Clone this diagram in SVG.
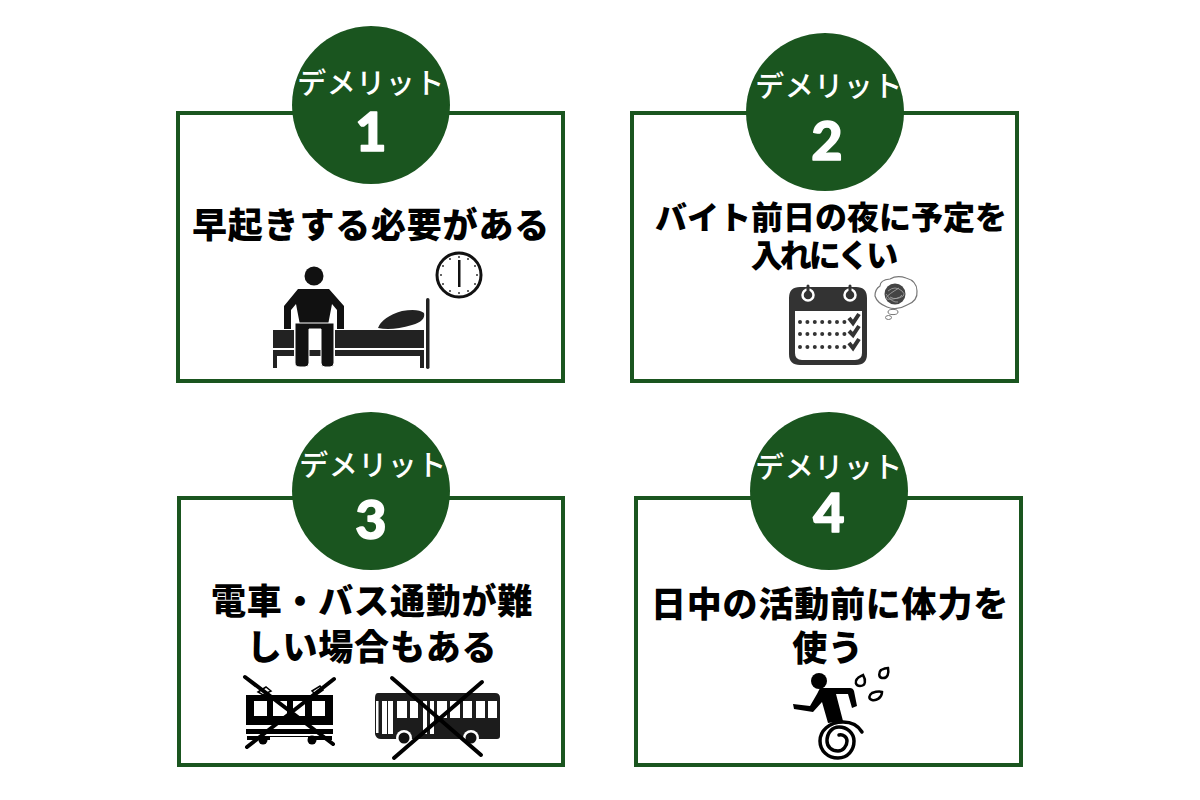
<svg xmlns="http://www.w3.org/2000/svg" width="1200" height="800" viewBox="0 0 1200 800">
<style>
.box{fill:#fff;stroke:#1a551f;stroke-width:4}
.disc{fill:#1a551f}
.lab{font-family:"Noto Sans CJK JP","Noto Sans",sans-serif;font-size:29px;font-weight:500;fill:#fff;text-anchor:middle;letter-spacing:.5px}
.num{font-family:"Lato","Noto Sans",sans-serif;font-size:54px;font-weight:900;fill:#fff;stroke:#fff;stroke-width:1.5;stroke-linejoin:round;text-anchor:middle}
.title{font-family:"Noto Sans CJK JP","Noto Sans",sans-serif;font-size:35px;font-weight:900;fill:#000;text-anchor:middle;letter-spacing:.8px}
.t2{font-size:32px;letter-spacing:0}
.k{fill:#222}
.ln{fill:none;stroke:#000;stroke-linecap:round;stroke-linejoin:round}
</style>
<rect width="1200" height="800" fill="#fff"/>
<g id="card1">
<rect class="box" x="178" y="113" width="385" height="268"/>
<circle class="disc" cx="371" cy="105" r="79"/>
<text class="lab" x="371" y="94">デメリット</text>
<text class="num" x="371" y="151">1</text>
<text class="title" x="371" y="238">早起きする必要がある</text>
<g id="icon-bed">
<circle cx="314" cy="276" r="9.500" fill="#111"/>
<path class="k" d="M273 330H294V348H273ZM335 330H424V348H335Z"/>
<path class="k" d="M273 350H294V356H277V368H273ZM309 350H321V356H309ZM335 350H424V356H335ZM420 356H424V368H420Z"/>
<path class="k" d="M378 328Q382 317 402 311Q418 308 424 313Q426 321 412 325Q392 331 378 328Z"/>
<path fill="#111" d="M298 289H329L344 306V329H337V310L332 304L328 325H300L296 304L291 310V329H284V306Z"/>
<path fill="#111" stroke="#fff" stroke-width="1" d="M295 323H334V363Q334 367 330 367H325Q321 367 321 363V329H309V363Q309 367 305 367H300Q295 367 295 363Z"/>
<rect class="k" x="426" y="298" width="3.500" height="71" rx="1.700"/>
<circle cx="459" cy="275" r="22" fill="#fff" stroke="#111" stroke-width="3"/>
<rect x="458" y="260" width="2.500" height="27" fill="#111"/>
<g fill="#333"><circle cx="459" cy="257" r="1"/><circle cx="468" cy="259" r="1"/><circle cx="475" cy="266" r="1"/><circle cx="477" cy="275" r="1"/><circle cx="475" cy="284" r="1"/><circle cx="468" cy="291" r="1"/><circle cx="459" cy="293" r="1"/><circle cx="450" cy="291" r="1"/><circle cx="443" cy="284" r="1"/><circle cx="441" cy="275" r="1"/><circle cx="443" cy="266" r="1"/><circle cx="450" cy="259" r="1"/></g>
</g>
</g>
<g id="card2">
<rect class="box" x="632" y="113" width="385" height="268"/>
<circle class="disc" cx="825" cy="112" r="79"/>
<text class="lab" x="829" y="97">デメリット</text>
<text class="num" x="827" y="160">2</text>
<text class="title t2" x="831" y="229">バイト前日の夜に予定を</text>
<text class="title t2" x="823" y="267" style="letter-spacing:-3px">入れにくい</text>
<g id="icon-calendar">
<path fill="#333" fill-rule="evenodd" d="M800 287H856Q867 287 867 298V354Q867 365 856 365H800Q789 365 789 354V298Q789 287 800 287ZM795 311V353Q795 360 802 360H855Q862 360 862 353V311Z"/>
<g fill="none" stroke-linecap="round"><circle cx="808" cy="295" r="5.500" stroke="#fff" stroke-width="2.500"/><circle cx="850" cy="295" r="5.500" stroke="#fff" stroke-width="2.500"/><path stroke="#333" stroke-width="3" d="M808 286V296M850 286V296"/></g>
<path stroke="#333" stroke-width="4" stroke-dasharray="0 7.400" stroke-linecap="round" fill="none" d="M800 322H846M800 334H846M800 347H846"/>
<path stroke="#333" stroke-width="4" fill="none" d="M849 318L853 323L859 314M849 331L853 335L859 326M849 343L853 348L859 339"/>
<path fill="#fff" stroke="#777" stroke-width="1.200" d="M880 286Q880 280 890 279Q897 275 906 278Q917 281 917 291Q918 301 907 305Q897 311 887 307Q877 303 875 296Q875 289 880 286Z"/>
<circle cx="895" cy="294" r="10.500" fill="#444"/>
<path fill="none" stroke="#aaa" stroke-width=".8" d="M888 291Q895 285 902 291T893 299T899 288M890 297Q897 301 902 295M886 294Q892 303 898 302"/>
<ellipse cx="893" cy="312" rx="5" ry="2.600" fill="#fff" stroke="#777"/>
<ellipse cx="888.500" cy="317.500" rx="3" ry="2" fill="#fff" stroke="#777"/>
</g>
</g>
<g id="card3">
<rect class="box" x="179" y="498" width="384" height="267"/>
<circle class="disc" cx="371" cy="491" r="79"/>
<text class="lab" x="373" y="476">デメリット</text>
<text class="num" x="371" y="539">3</text>
<text class="title" x="372" y="614">電車・バス通勤が難</text>
<text class="title" x="372" y="660">しい場合もある</text>
<g id="icon-train">
<path fill="#000" fill-rule="evenodd" d="M246 695H333V725H246ZM254 701V716H267V701ZM273 701V716H287V701ZM293 701V716H305V701ZM312 701V716H325V701Z"/>
<path fill="#000" d="M246 729H333V734H246ZM247 736H270V740H247ZM308 736H332V740H308ZM270 736H308V737H270Z"/>
<circle cx="263" cy="740" r="4.500"/><circle cx="312" cy="740" r="4.500"/>
<path fill="#fff" stroke="#000" stroke-width="1.500" d="M258 692L266 687L271 691L263 695ZM312 691L320 686L323 690L316 695Z"/>
<path class="ln" stroke-width="4" d="M245 677L333 744M334 679L247 747"/>
</g>
<g id="icon-bus">
<path fill="#1c1c1c" d="M378 693H495Q500 693 500 698V736Q500 739 497 739H381Q376 739 375 734V698Q375 693 378 693Z"/>
<g fill="#fff"><rect x="376" y="701" width="2.500" height="32"/><rect x="382" y="701" width="5" height="33"/><rect x="388" y="701" width="5" height="33"/><rect x="397" y="701" width="10" height="17"/><rect x="410" y="701" width="8" height="17"/><rect x="423" y="701" width="4" height="33"/><rect x="430" y="701" width="4" height="33"/><rect x="437" y="701" width="10" height="17"/><rect x="450" y="701" width="10" height="17"/><rect x="463" y="701" width="9" height="17"/><rect x="476" y="701" width="9" height="17"/><rect x="488" y="701" width="9" height="17"/></g>
<circle cx="404" cy="738" r="8" fill="#fff"/><circle cx="404" cy="738" r="5.500" fill="#111"/><circle cx="471" cy="738" r="8" fill="#fff"/><circle cx="471" cy="738" r="5.500" fill="#111"/>
<path class="ln" stroke-width="4" d="M392 678L481 755M482 682L394 758"/>
</g>
</g>
<g id="card4">
<rect class="box" x="636" y="498" width="385" height="267"/>
<circle class="disc" cx="829" cy="491" r="79"/>
<text class="lab" x="829" y="478">デメリット</text>
<text class="num" x="829" y="532">4</text>
<text class="title" x="830" y="617">日中の活動前に体力を</text>
<text class="title" x="828" y="661">使う</text>
<g id="icon-runner">
<circle cx="819" cy="681" r="8" fill="#000"/>
<path fill="#000" d="M820 688H850Q853 688 854 691L857 706L852 708L848 694L836 694L843 721L828 723L822 702L813 712L794 709L793 704L810 706L817 694Z"/>
<path class="ln" stroke-width="3.500" d="M862 732Q856 722 843 722C829 722 820 731 820 741C820 751 828 758 838 758C848 758 854 750 854 741C854 733 847 727 839 727C832 727 827 733 827 741C827 747 832 751 838 751C843 751 847 746 847 741C847 737 843 734 839 735"/>
<path fill="#fff" stroke="#000" stroke-width="2.500" d="M863 675C866 680 866 686 860 686C855 686 855 681 857 679C858 677 861 676 863 675ZM888 668C889 673 888 679 882 678C878 677 879 672 881 670C883 669 886 668 888 668ZM882 692C882 698 876 701 872 700C868 699 869 695 872 693C875 692 879 691 882 692Z"/>
</g>
</g>
</svg>
